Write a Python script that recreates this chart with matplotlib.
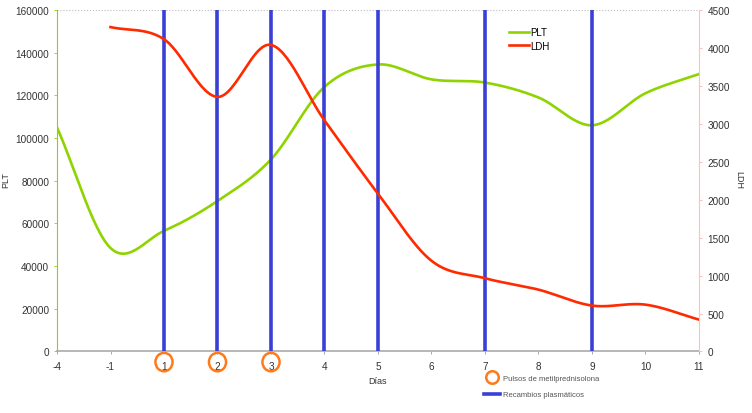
import numpy as np
import matplotlib
matplotlib.use("Agg")
import matplotlib.pyplot as plt
from matplotlib.patches import Ellipse
from matplotlib.lines import Line2D

plt.rcParams['font.family'] = ['Liberation Sans', 'DejaVu Sans']

# categorias del eje x (dias)
dias = ['-4', '-1', '1', '2', '3', '4', '5', '6', '7', '8', '9', '10', '11']
plt_vals = [105000, 48500, 56500, 70500, 90000, 124000, 134500, 127500,
            126000, 119000, 106000, 121000, 130000]
ldh_dias = ['-1', '1', '2', '3', '4', '5', '6', '7', '8', '9', '10', '11']
ldh_vals = [4275, 4115, 3355, 4040, 3045, 2080, 1195, 965, 815, 605, 617, 420]
recambios = ['1', '2', '3', '4', '5', '7', '9']
pulsos = ['1', '2', '3']


def suavizar(x, y, n=30):
    """Curva suavizada tipo Catmull-Rom (como las lineas suavizadas de Excel)."""
    x = np.asarray(x, float)
    y = np.asarray(y, float)
    px = np.concatenate([[2 * x[0] - x[1]], x, [2 * x[-1] - x[-2]]])
    py = np.concatenate([[2 * y[0] - y[1]], y, [2 * y[-1] - y[-2]]])
    xs, ys = [], []
    t = np.linspace(0, 1, n, endpoint=False)
    for i in range(1, len(px) - 2):
        for p, out in ((px, xs), (py, ys)):
            p0, p1, p2, p3 = p[i - 1], p[i], p[i + 1], p[i + 2]
            out.append(0.5 * ((2 * p1) + (-p0 + p2) * t
                              + (2 * p0 - 5 * p1 + 4 * p2 - p3) * t ** 2
                              + (-p0 + 3 * p1 - 3 * p2 + p3) * t ** 3))
    xs.append([x[-1]])
    ys.append([y[-1]])
    return np.concatenate(xs), np.concatenate(ys)


pos = {d: i for i, d in enumerate(dias)}
x_plt = [pos[d] for d in dias]
x_ldh = [pos[d] for d in ldh_dias]

fig = plt.figure(figsize=(7.52, 4.14), dpi=100)
ax = fig.add_axes([0.0758, 0.1486, 0.8537, 0.8248])
ax2 = ax.twinx()

verde = '#8fd400'
rojo = '#ff2a00'
azul = '#3a3fd6'
naranja = '#ff7a1a'

xs, ys = suavizar(x_plt, plt_vals)
l1, = ax.plot(xs, ys, color=verde, lw=1.9, label='PLT', zorder=3)
xs, ys = suavizar(x_ldh, ldh_vals)
l2, = ax2.plot(xs, ys, color=rojo, lw=1.9, label='LDH', zorder=3)

for d in recambios:
    ax.axvline(pos[d], color=azul, lw=2.6, zorder=4)

ax.set_xlim(0, len(dias) - 1)
ax.set_ylim(0, 160000)
ax2.set_ylim(0, 4500)
ax.set_yticks(np.arange(0, 160001, 20000))
ax2.set_yticks(np.arange(0, 4501, 500))
ax.set_xticks(range(len(dias)))
ax.set_xticklabels(dias)

for a in (ax, ax2):
    a.tick_params(labelsize=7.2, colors='#333333', length=2, width=0.6)
    for s in a.spines.values():
        s.set_visible(False)
ax.tick_params(axis='x', color='#999999', pad=4.5)
ax.tick_params(axis='y', color=verde)
ax2.tick_params(axis='y', color='#ffb0b0', pad=4)

ax.spines['left'].set_visible(True)
ax.spines['left'].set_color(verde)
ax.spines['left'].set_linewidth(0.8)
ax2.spines['right'].set_visible(True)
ax2.spines['right'].set_color('#ffc0c0')
ax2.spines['right'].set_linewidth(0.8)
ax.spines['bottom'].set_visible(True)
ax.spines['bottom'].set_color('#aaaaaa')
ax.spines['bottom'].set_linewidth(1.2)
ax.axhline(160000, color='#bbbbbb', lw=0.8, ls=':', zorder=1)

ax.set_ylabel('PLT', fontsize=6.5, color='#333333')
ax.yaxis.set_label_coords(-0.073, 0.505)
ax2.set_ylabel('LDH', fontsize=6.5, color='#333333', rotation=270, va='center')
ax2.yaxis.set_label_coords(1.062, 0.505)
ax.set_xlabel('Días', fontsize=6.5, color='#333333', labelpad=4)

# circulos sobre las etiquetas de los pulsos
for d in pulsos:
    e = Ellipse((pos[d], -0.031), width=0.32, height=0.054, fill=False,
                edgecolor=naranja, lw=1.8, transform=ax.get_xaxis_transform(),
                clip_on=False, zorder=5)
    ax.add_patch(e)

ax2.legend(handles=[l1, l2], loc='upper left', bbox_to_anchor=(0.69, 0.975),
           frameon=False, fontsize=7, handlelength=2.1, handletextpad=0.15,
           labelspacing=0.35)

# leyenda inferior
h1 = Line2D([], [], ls='none', marker='o', ms=9, mfc='none', mec=naranja, mew=1.8)
h2 = Line2D([], [], color=azul, lw=2.6)
fig.legend(handles=[h1, h2],
           labels=['Pulsos de metilprednisolona', 'Recambios plasmáticos'],
           loc='upper left', bbox_to_anchor=(0.635, 0.11), frameon=False,
           fontsize=5.5, handlelength=2.0, handletextpad=0.5,
           labelspacing=1.2, labelcolor='#555555')

fig.savefig('out.png', dpi=100)
